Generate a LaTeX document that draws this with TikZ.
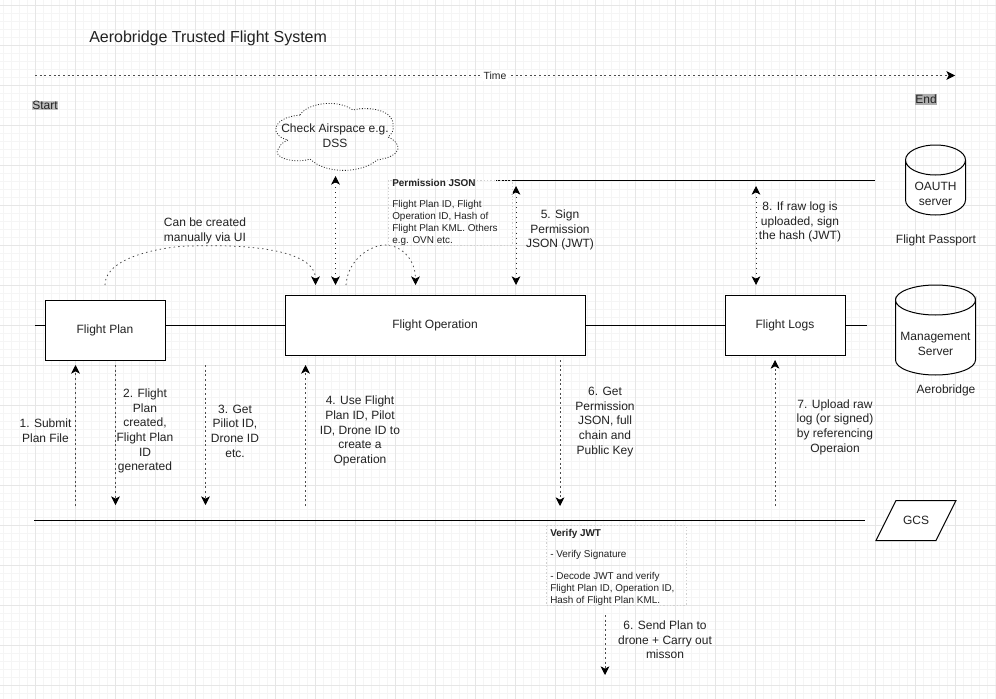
\documentclass[tikz,border=0pt]{standalone}
\usepackage{fontspec}
\setmainfont{Liberation Sans}
\usetikzlibrary{arrows.meta}
\definecolor{ink}{HTML}{222222}
\definecolor{gridmajor}{HTML}{E6E6E6}
\definecolor{gridminor}{HTML}{F5F5F5}
\tikzset{
  x=0.75pt,y=-0.75pt,
  tip/.style={-{Stealth[length=6.5pt,width=6.5pt,inset=1.8pt,color=black]}},
  tipboth/.style={{Stealth[length=6.5pt,width=6.5pt,inset=1.8pt,color=black]}-{Stealth[length=6.5pt,width=6.5pt,inset=1.8pt,color=black]}},
  dashline/.style={draw=black!70,line width=0.5pt,dash pattern=on 1.6pt off 1.9pt},
  curveline/.style={draw=black!75,line width=0.55pt,dash pattern=on 1.1pt off 2.4pt},
  dotline/.style={draw=black!85,line width=0.7pt,dash pattern=on 0.7pt off 3.1pt},
  solidline/.style={draw=black,line width=0.75pt},
  box/.style={draw=black,line width=0.75pt,fill=white,minimum width=90pt,minimum height=45pt,inner sep=0pt,text=ink,font=\fontsize{9}{10.5}\selectfont},
  lab/.style={align=center,text=ink,inner sep=0pt,font=\fontsize{9}{11}\selectfont},
  note/.style={align=left,anchor=north west,text=ink,inner sep=0pt,font=\fontsize{7.45}{9}\selectfont},
  faint/.style={draw=black!18,line width=0.5pt,dash pattern=on 1pt off 1.5pt},
}
\begin{document}
\begin{tikzpicture}
\useasboundingbox (0,0) rectangle (996,699);
\fill[white] (0,0) rectangle (996,699);
% grid
\foreach \i in {-4,...,124} {\draw[gridminor,line width=0.4pt] ({35.5+8*\i},0) -- ({35.5+8*\i},699);}
\foreach \i in {0,...,87} {\draw[gridminor,line width=0.4pt] (0,{5+8*\i}) -- (996,{5+8*\i});}
\foreach \i in {-0,...,24} {\draw[gridmajor,line width=0.5pt] ({-4.5+40*\i},0) -- ({-4.5+40*\i},699);}
\foreach \i in {0,...,17} {\draw[gridmajor,line width=0.5pt] (0,{5+40*\i}) -- (996,{5+40*\i});}

% title and time axis
\node[anchor=west,text=ink,inner sep=0pt,font=\fontsize{12}{14}\selectfont] (title) at (89,38.5) {Aerobridge Trusted Flight System};
\coordinate (tstart) at (35,75.5);
\coordinate (tend) at (955,75.5);
\draw[dashline,tip] (tstart) -- node[pos=0.5,fill=white,inner sep=1pt,text=ink,font=\fontsize{7.8}{9}\selectfont] (time) {Time} (tend);
\node[fill=black!25,text=ink,inner sep=0.5pt,font=\fontsize{9}{10}\selectfont] (start) at (45,105.5) {Start};
\node[fill=black!32,text=ink,inner sep=0.5pt,font=\fontsize{9}{10}\selectfont] (end) at (926,99.5) {End};

% backbone lines
\coordinate (mainL) at (35,325);
\coordinate (mainR) at (867,325);
\draw[solidline] (mainL) -- (mainR);
\coordinate (passL) at (496,180.5);
\coordinate (passR) at (875,180.5);
\draw[solidline] (passL) -- (passR);
\coordinate (gcsL) at (34,520.5);
\coordinate (gcsR) at (865,520.5);
\draw[solidline] (gcsL) -- (gcsR);

% boxes
\node[box] (plan) at (105,330) {Flight Plan};
\node[box,minimum width=225pt] (op) at (435,325) {Flight Operation};
\node[box] (logs) at (785,325) {Flight Logs};

% cylinders
\draw[solidline,fill=white] (905.5,160) arc[start angle=180,end angle=0,x radius=30,y radius=15] -- (965.5,200) arc[start angle=0,end angle=180,x radius=30,y radius=15] -- cycle;
\draw[solidline] (905.5,160) arc[start angle=180,end angle=360,x radius=30,y radius=15];
\node[lab] (oauth) at (935.5,194) {OAUTH\\server};
\node[lab] (fpass) at (936,240) {Flight Passport};
\draw[solidline,fill=white] (895.5,300) arc[start angle=180,end angle=0,x radius=40,y radius=15] -- (975.5,360) arc[start angle=0,end angle=180,x radius=40,y radius=15] -- cycle;
\draw[solidline] (895.5,300) arc[start angle=180,end angle=360,x radius=40,y radius=15];
\node[lab] (mgmt) at (935.5,344) {Management\\Server};
\node[lab] (aero) at (946,390) {Aerobridge};

% GCS
\draw[solidline,fill=white] (876,540.5) -- (896,500.5) -- (956,500.5) -- (936,540.5) -- cycle;
\node[lab] (gcs) at (916,520) {GCS};

% cloud
\draw[black!85,line width=0.6pt,dash pattern=on 0.7pt off 1.3pt]
 (300,115) .. controls (306,104) and (336,98) .. (353,110)
 .. controls (368,106) and (394,110) .. (393,125)
 .. controls (394,130) and (392,134) .. (388,137)
 .. controls (402,143) and (404,156) .. (377,160)
 .. controls (364,172) and (328,176) .. (310,159)
 .. controls (296,164) and (270,158) .. (279,148)
 .. controls (280,144) and (284,142) .. (288,140)
 .. controls (270,136) and (270,118) .. (300,115) -- cycle;
\node[lab] (cloud) at (335,136) {Check Airspace e.g.\\DSS};

% curved connectors
\coordinate (c1s) at (105,285);
\coordinate (c1e) at (315.5,285);
\draw[curveline,tip] (c1s) .. controls (105,255) and (170,246) .. (190,246) .. controls (250,244) and (315.5,250) .. (c1e);
\node[lab] (manual) at (205,231) {Can be created\\manually via UI};
\coordinate (c2s) at (346,285);
\coordinate (c2e) at (415.5,285);
\draw[curveline,tip] (c2s) .. controls (348,258) and (372,245) .. (385,245) .. controls (400,245) and (415.5,258) .. (c2e);

% double dotted arrows
\coordinate (a1t) at (335.5,176);
\coordinate (a1b) at (335.5,285);
\draw[dotline,tipboth] (a1t) -- (a1b);
\coordinate (a5t) at (516,186);
\coordinate (a5b) at (516,285);
\draw[dotline,tipboth] (a5t) -- (a5b);
\coordinate (a8t) at (756,186);
\coordinate (a8b) at (756,285);
\draw[dotline,tipboth] (a8t) -- (a8b);

% note boxes
\draw[faint] (388,180.5) rectangle (512,245);
\node[note] (perm) at (392,179) {\textbf{Permission JSON}\\[6.75pt]Flight Plan ID, Flight\\Operation ID, Hash of\\Flight Plan KML. Others\\e.g. OVN etc.};
\draw[faint] (546,525.5) rectangle (686,605);
\node[note] (verify) at (550,529) {\textbf{Verify JWT}\\[7pt]- Verify Signature\\[7pt]- Decode JWT and verify\\Flight Plan ID, Operation ID,\\Hash of Flight Plan KML.};

% vertical connectors
\coordinate (s1a) at (75.5,506); \coordinate (s1b) at (75.5,365);
\draw[dashline,tip] (s1a) -- (s1b);
\coordinate (s2a) at (115.5,365); \coordinate (s2b) at (115.5,505);
\draw[dashline,tip] (s2a) -- (s2b);
\coordinate (s3a) at (205.5,365); \coordinate (s3b) at (205.5,505);
\draw[dashline,tip] (s3a) -- (s3b);
\coordinate (s4a) at (305.5,506); \coordinate (s4b) at (305.5,365);
\draw[dashline,tip] (s4a) -- (s4b);
\coordinate (s6a) at (560,360); \coordinate (s6b) at (560,506);
\draw[dashline,tip] (s6a) -- (s6b);
\coordinate (s7a) at (775,506); \coordinate (s7b) at (775,360);
\draw[dashline,tip] (s7a) -- (s7b);
\coordinate (s9a) at (605,615); \coordinate (s9b) at (605,675);
\draw[dashline,tip] (s9a) -- (s9b);

% labels
\node[lab] (l1) at (45.5,431) {1. Submit\\Plan File};
\node[lab] (l2) at (145,431) {2. Flight\\Plan\\created,\\Flight Plan\\ID\\generated};
\node[lab] (l3) at (235,431) {3. Get\\Piliot ID,\\Drone ID\\etc.};
\node[lab] (l4) at (360,431) {4. Use Flight\\Plan ID, Pilot\\ID, Drone ID to\\create a\\Operation};
\node[lab] (l5) at (560,230) {5. Sign\\Permission\\JSON (JWT)};
\node[lab] (l6) at (605,422) {6. Get\\Permission\\JSON, full\\chain and\\Public Key};
\node[lab] (l7) at (835,427) {7. Upload raw\\log (or signed)\\by referencing\\Operaion};
\node[lab] (l8) at (800,222) {8. If raw log is\\uploaded, sign\\the hash (JWT)};
\node[lab] (l9) at (665,640) {6. Send Plan to\\drone + Carry out\\misson};
\end{tikzpicture}
\end{document}
